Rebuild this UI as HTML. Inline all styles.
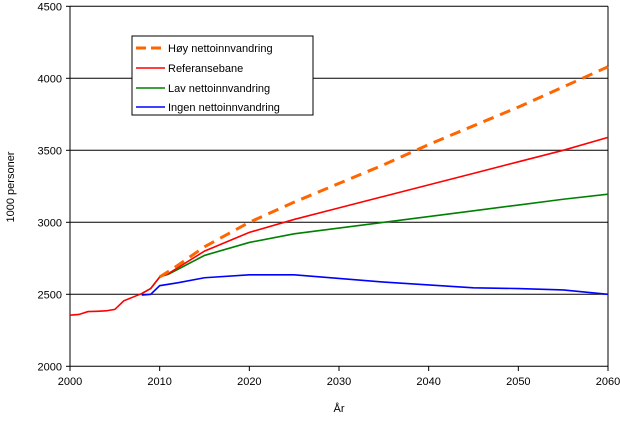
<!DOCTYPE html>
<html><head><meta charset="utf-8"><style>
body{margin:0;background:#fff;}
svg text{font-family:"Liberation Sans",sans-serif;font-size:11px;fill:#000;}
</style></head><body>
<svg width="620" height="417">
<g id="grid"></g>
<g id="axes"></g>
<g id="series"></g>
<text x="14" y="187" transform="rotate(-90 14 187)" text-anchor="middle">1000 personer</text>
<text x="339" y="412" text-anchor="middle">År</text>
<g>
<rect x="132" y="36" width="181" height="79" fill="#fff" stroke="#000" stroke-width="1"/>
<line x1="136" y1="48" x2="165" y2="48" stroke="#ff6600" stroke-width="3" stroke-dasharray="10,5"/>
<text x="168" y="52">Høy nettoinnvandring</text>
<line x1="136" y1="68" x2="165" y2="68" stroke="#ff0000" stroke-width="1.5"/>
<text x="168" y="72">Referansebane</text>
<line x1="136" y1="88" x2="165" y2="88" stroke="#008000" stroke-width="1.5"/>
<text x="168" y="92">Lav nettoinnvandring</text>
<line x1="136" y1="107" x2="165" y2="107" stroke="#0000ff" stroke-width="1.5"/>
<text x="168" y="111">Ingen nettoinnvandring</text>
</g>
</svg>
<script>
const yTicks=[2000,2500,3000,3500,4000,4500];
const xTicks=[2000,2010,2020,2030,2040,2050,2060];
const refYears=[2000,2001,2002,2003,2004,2005,2006,2007,2008,2009,2010,2011,2015,2020,2025,2030,2035,2040,2045,2050,2055,2060];
const refVals=[2355,2360,2380,2382,2385,2395,2455,2480,2505,2540,2620,2645,2800,2930,3020,3100,3180,3260,3340,3420,3500,3590];
const hoyYears=[2010,2012,2015,2020,2025,2030,2035,2040,2045,2050,2055,2060];
const hoyVals=[2620,2700,2830,3000,3140,3270,3400,3540,3670,3800,3940,4080];
const lavYears=[2008,2009,2010,2011,2015,2020,2025,2030,2035,2040,2045,2050,2055,2060];
const lavVals=[2505,2540,2620,2640,2770,2860,2920,2960,3000,3040,3080,3120,3160,3195];
const ingenYears=[2008,2009,2010,2012,2015,2020,2025,2030,2035,2040,2045,2050,2055,2060];
const ingenVals=[2495,2500,2560,2580,2615,2635,2635,2610,2585,2565,2545,2540,2530,2500];
const X=y=>70+(y-2000)*(538/60);
const Y=v=>366.3-(v-2000)*(72/500);
const NS="http://www.w3.org/2000/svg";
function mk(t,a,p){const e=document.createElementNS(NS,t);for(const k in a)e.setAttribute(k,a[k]);p.appendChild(e);return e;}
const grid=document.getElementById('grid'),axes=document.getElementById('axes'),ser=document.getElementById('series');
yTicks.forEach(v=>{
 const l=mk('line',{x1:70,x2:608,y1:Y(v),y2:Y(v),stroke:'#000','stroke-width':1},grid);
 
 
 mk('line',{x1:66,x2:70,y1:Y(v),y2:Y(v),stroke:'#000'},axes);
 const t=mk('text',{x:62,y:Y(v)+4,'text-anchor':'end'},axes);t.textContent=v;
 
 
});
mk('line',{x1:70,x2:70,y1:Y(4500),y2:Y(2000),stroke:'#000'},axes);
mk('line',{x1:608,x2:608,y1:Y(4500),y2:Y(2000),stroke:'#000'},axes);
xTicks.forEach(y=>{
 mk('line',{x1:X(y),x2:X(y),y1:366,y2:371,stroke:'#000'},axes);
 const t=mk('text',{x:X(y),y:385,'text-anchor':'middle'},axes);t.textContent=y;
 
 
});
function line(ys,vs,col,w,dash,name){
 const p=mk('polyline',{points:ys.map((y,i)=>X(y)+','+Y(vs[i])).join(' '),fill:'none',stroke:col,'stroke-width':w},ser);
 if(dash)p.setAttribute('stroke-dasharray',dash);
 
 
}
line(ingenYears,ingenVals,'#0000ff',1.6,null,'ingen-line');
line(lavYears,lavVals,'#008000',1.6,null,'lav-line');
line(refYears,refVals,'#ff0000',1.6,null,'referanse-line');
line(hoyYears,hoyVals,'#ff6600',3,'11,7','hoy-line');
</script>
</body></html>
